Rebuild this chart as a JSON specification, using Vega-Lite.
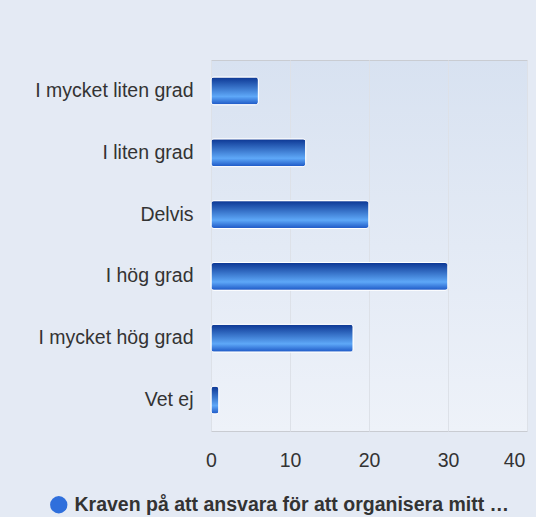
{
  "$schema": "https://vega.github.io/schema/vega-lite/v6.json",
  "autosize": "none",
  "width": 316,
  "height": 371,
  "padding": {"left": 211, "top": 60, "right": 9, "bottom": 86},
  "background": "#e4eaf4",
  "data": {
    "values": [
      {"kategori": "I mycket liten grad", "antal": 6, "serie": "Kraven på att ansvara för att organisera mitt …"},
      {"kategori": "I liten grad", "antal": 12, "serie": "Kraven på att ansvara för att organisera mitt …"},
      {"kategori": "Delvis", "antal": 20, "serie": "Kraven på att ansvara för att organisera mitt …"},
      {"kategori": "I hög grad", "antal": 30, "serie": "Kraven på att ansvara för att organisera mitt …"},
      {"kategori": "I mycket hög grad", "antal": 18, "serie": "Kraven på att ansvara för att organisera mitt …"},
      {"kategori": "Vet ej", "antal": 1, "serie": "Kraven på att ansvara för att organisera mitt …"}
    ]
  },
  "encoding": {
    "y": {
      "field": "kategori",
      "type": "nominal",
      "sort": null,
      "scale": {"paddingInner": 0.55, "paddingOuter": 0.275},
      "axis": {
        "title": null,
        "ticks": false,
        "domain": false,
        "labelFont": "Liberation Sans",
        "labelFontSize": 19.5,
        "labelColor": "#333333",
        "labelPadding": 18,
        "labelLimit": 300
      }
    },
    "x": {
      "field": "antal",
      "type": "quantitative",
      "scale": {"domain": [0, 40], "nice": false},
      "axis": {
        "title": null,
        "values": [0, 10, 20, 30, 40],
        "ticks": false,
        "domain": false,
        "labelFlush": false,
        "labelFont": "Liberation Sans",
        "labelFontSize": 19.5,
        "labelColor": "#333333",
        "labelPadding": 20,
        "labelOffset": {"condition": {"test": "datum.value == 40", "value": -13}, "value": 0},
        "gridColor": "#dde1e8",
        "gridWidth": 1
      }
    }
  },
  "layer": [
    {
      "mark": {
        "type": "bar",
        "stroke": "#ffffff",
        "strokeWidth": 1,
        "cornerRadius": 3,
        "fill": {
          "gradient": "linear",
          "x1": 0, "y1": 0, "x2": 0, "y2": 1,
          "stops": [
            {"offset": 0, "color": "#0b3592"},
            {"offset": 0.7, "color": "#5ea8f8"},
            {"offset": 1, "color": "#1b55c4"}
          ]
        }
      }
    },
    {
      "mark": {"type": "point", "filled": true, "opacity": 0},
      "encoding": {
        "color": {
          "field": "serie",
          "type": "nominal",
          "scale": {"range": ["#2f6fdc"]},
          "legend": {
            "title": null,
            "orient": "none",
            "legendX": -162,
            "legendY": 435,
            "symbolType": "circle",
            "symbolSize": 300,
            "symbolOpacity": 1,
            "symbolStrokeWidth": 0,
            "labelFont": "Liberation Sans",
            "labelFontSize": 19.5,
            "labelFontWeight": "bold",
            "labelColor": "#333333",
            "labelLimit": 600,
            "labelOffset": 6
          }
        }
      }
    }
  ],
  "config": {
    "view": {
      "stroke": "#c9ccd2",
      "strokeWidth": 1,
      "fill": {
        "gradient": "linear",
        "x1": 0, "y1": 0, "x2": 0, "y2": 1,
        "stops": [
          {"offset": 0, "color": "#d8e2f1"},
          {"offset": 1, "color": "#eef2f9"}
        ]
      }
    }
  }
}
